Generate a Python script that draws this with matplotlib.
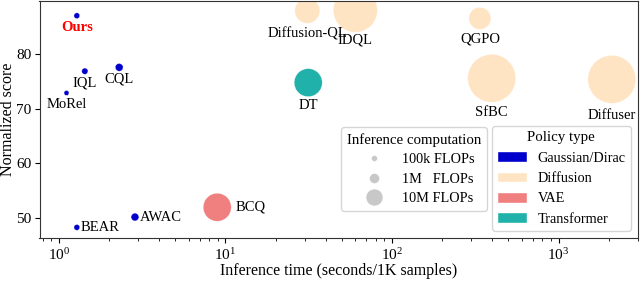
import matplotlib
matplotlib.use("Agg")
import matplotlib.pyplot as plt
from matplotlib.lines import Line2D
from matplotlib.patches import Patch

plt.rcParams['font.family'] = ['Liberation Serif', 'DejaVu Serif']
plt.rcParams['mathtext.fontset'] = 'stix'

# ---- data ----
methods = ["Ours", "IQL", "CQL", "MoRel", "BEAR", "AWAC", "BCQ", "DT",
           "Diffusion-QL", "IDQL", "QGPO", "SfBC", "Diffuser"]
inference_time = [1.28, 1.43, 2.30, 1.11, 1.28, 2.86, 8.92, 31.4,
                  31.0, 60.2, 337, 397, 2090]
score = [87.1, 76.9, 77.6, 72.9, 48.2, 50.1, 51.9, 74.8,
         88.0, 88.1, 86.6, 75.6, 75.4]
flops = [8.0e4, 1.1e5, 3.0e5, 4.0e4, 8.0e4, 3.0e5, 9.0e7, 9.0e7,
         5.5e7, 6.7e8, 3.1e7, 9.8e8, 9.8e8]
policy = ["Gaussian/Dirac", "Gaussian/Dirac", "Gaussian/Dirac", "Gaussian/Dirac",
          "Gaussian/Dirac", "Gaussian/Dirac", "VAE", "Transformer",
          "Diffusion", "Diffusion", "Diffusion", "Diffusion", "Diffusion"]
policy_types = ["Gaussian/Dirac", "Diffusion", "VAE", "Transformer"]
size_legend_flops = [1e5, 1e6, 1e7]
size_legend_labels = ["100k FLOPs", "1M   FLOPs", "10M FLOPs"]

# ---- style ----
colors = {"Gaussian/Dirac": "#0000CD", "Diffusion": "#FFE4C4",
          "VAE": "#F08080", "Transformer": "#20B2AA"}
# label offsets (points) and alignment
label_off = {
    "Ours": (0, -4, "center", "top"),
    "IQL": (0, -4, "center", "top"),
    "CQL": (0, -4, "center", "top"),
    "MoRel": (0, -3.5, "center", "top"),
    "BEAR": (2.5, 0, "left", "center"),
    "AWAC": (3.5, 0, "left", "center"),
    "BCQ": (13, 0, "left", "center"),
    "DT": (0, -11.5, "center", "top"),
    "Diffusion-QL": (0, -12, "center", "top"),
    "IDQL": (0, -16.5, "center", "top"),
    "QGPO": (0, -10, "center", "top"),
    "SfBC": (0, -20, "center", "top"),
    "Diffuser": (0, -21, "center", "top"),
}

def diam_pt(f):
    d_px = 6.0 * (f / 1e5) ** 0.226
    return d_px * 72 / 100

fig = plt.figure(figsize=(6.4, 2.81), dpi=100)
ax = fig.add_axes([39.5 / 640, 1 - 238.3 / 281, 598.5 / 640, 237.3 / 281])

for m, x, y, f, p in zip(methods, inference_time, score, flops, policy):
    ax.scatter([x], [y], s=diam_pt(f) ** 2, color=colors[p],
               edgecolors="white", linewidths=0.4, linestyle=":", zorder=2)
    dx, dy, ha, va = label_off[m]
    if m == "Ours":
        ax.annotate(m, (x, y), xytext=(dx, dy), textcoords="offset points",
                    ha=ha, va=va, fontsize=10.5, color="red", fontweight="bold", zorder=3)
    else:
        ax.annotate(m, (x, y), xytext=(dx, dy), textcoords="offset points",
                    ha=ha, va=va, fontsize=10.5, color="black", zorder=3)

ax.set_xscale("log")
ax.set_xlim(0.764, 3000)
ax.set_ylim(46.2, 89.8)
ax.set_yticks([50, 60, 70, 80])
ax.tick_params(labelsize=11, pad=2.5)
ax.set_xlabel("Inference time (seconds/1K samples)", fontsize=11.5, labelpad=0)
ax.set_ylabel("Normalized score", fontsize=11.5, labelpad=0)
for sp in ax.spines.values():
    sp.set_color("#333333")

size_handles = [Line2D([], [], linestyle="none", marker="o", color="#C8C8C8",
                       markersize=diam_pt(f), markeredgecolor="white",
                       markeredgewidth=0.4) for f in size_legend_flops]
leg1 = ax.legend(size_handles, size_legend_labels, title="Inference computation",
                 loc="lower left", bbox_to_anchor=(0.504, 0.116), borderaxespad=0,
                 fontsize=10.3, title_fontsize=10.7, labelspacing=0.45,
                 handlelength=3.0, handletextpad=0.45, borderpad=0.4)
ax.add_artist(leg1)
pol_handles = [Patch(facecolor=colors[p], edgecolor="white") for p in policy_types]
ax.legend(pol_handles, policy_types, title="Policy type",
          loc="lower left", bbox_to_anchor=(0.756, 0.032), borderaxespad=0,
          fontsize=10.3, title_fontsize=10.7, labelspacing=0.5,
          handlelength=2.1, handleheight=0.75, handletextpad=0.75, borderpad=0.35)

fig.savefig("out.png", dpi=100)
